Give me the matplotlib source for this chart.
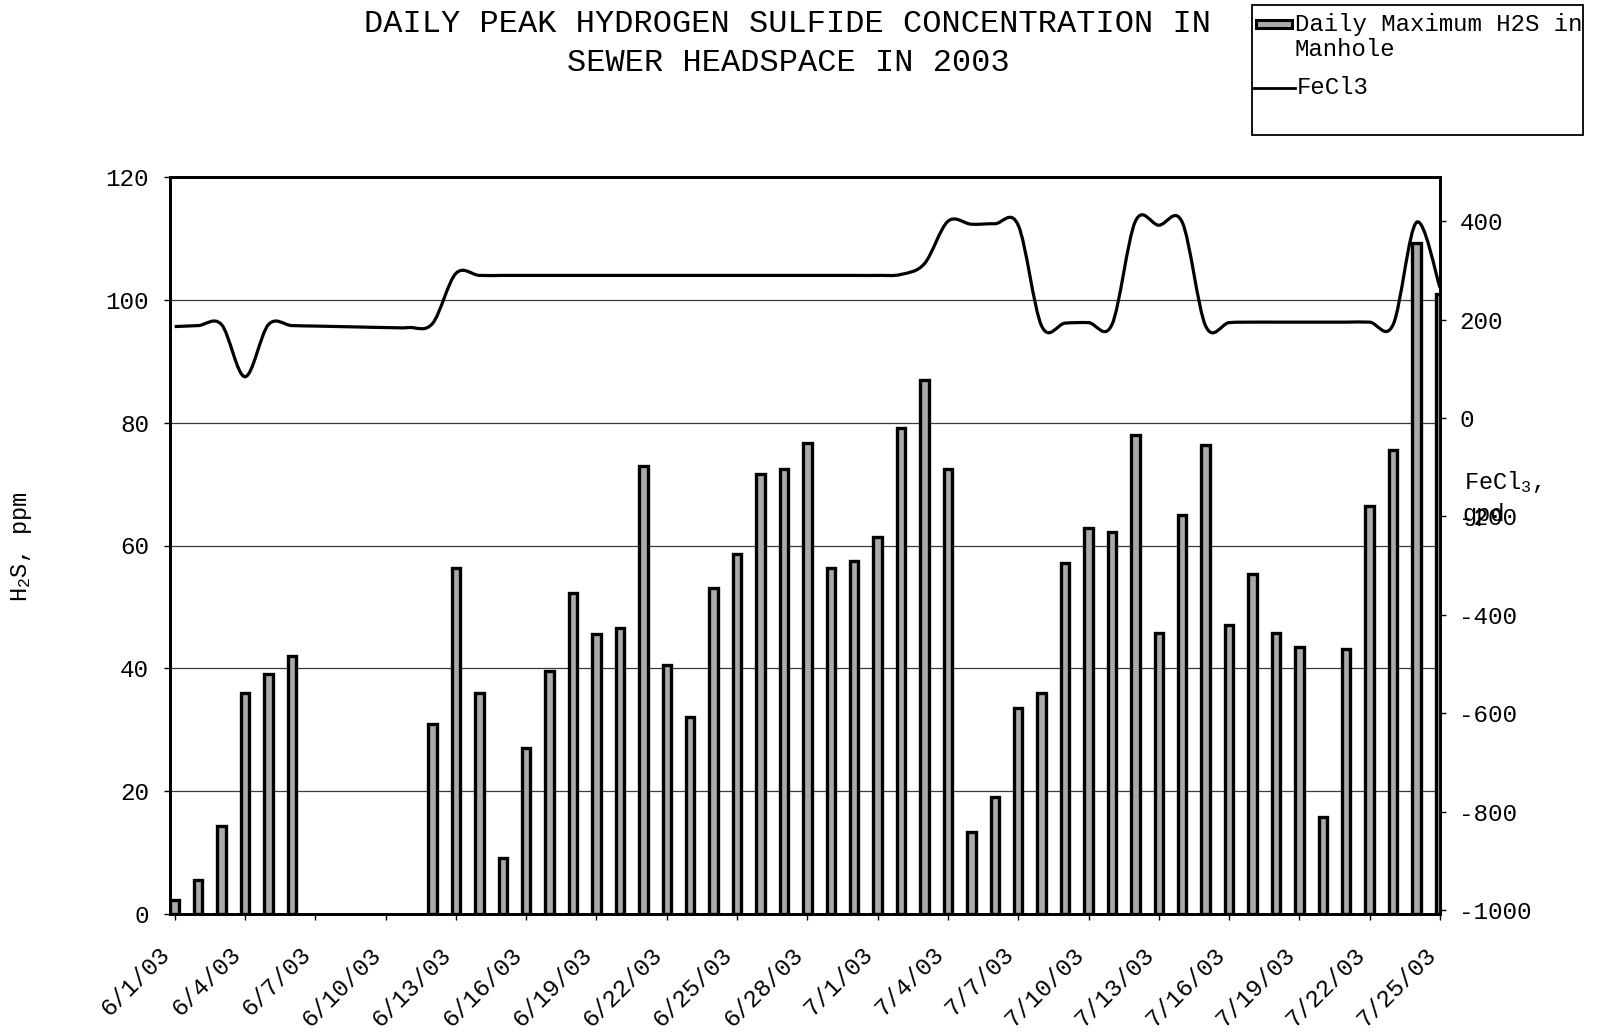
import numpy as np
import matplotlib
matplotlib.use('Agg')
import matplotlib.pyplot as plt
from matplotlib.path import Path
from matplotlib.patches import PathPatch, Rectangle
from matplotlib.lines import Line2D

plt.rcParams['font.family'] = ['Liberation Mono', 'DejaVu Sans Mono']
plt.rcParams['axes.unicode_minus'] = False
plt.rcParams['mathtext.fontset'] = 'custom'
plt.rcParams['mathtext.rm'] = 'Liberation Mono'
plt.rcParams['mathtext.it'] = 'Liberation Mono'

# ---------------- data ----------------
day_labels = ['6/1/03', '6/2/03', '6/3/03', '6/4/03', '6/5/03', '6/6/03', '6/7/03', '6/8/03',
              '6/9/03', '6/10/03', '6/11/03', '6/12/03', '6/13/03', '6/14/03', '6/15/03',
              '6/16/03', '6/17/03', '6/18/03', '6/19/03', '6/20/03', '6/21/03', '6/22/03',
              '6/23/03', '6/24/03', '6/25/03', '6/26/03', '6/27/03', '6/28/03', '6/29/03',
              '6/30/03', '7/1/03', '7/2/03', '7/3/03', '7/4/03', '7/5/03', '7/6/03', '7/7/03',
              '7/8/03', '7/9/03', '7/10/03', '7/11/03', '7/12/03', '7/13/03', '7/14/03',
              '7/15/03', '7/16/03', '7/17/03', '7/18/03', '7/19/03', '7/20/03', '7/21/03',
              '7/22/03', '7/23/03', '7/24/03', '7/25/03']

tick_labels = ['6/1/03', '6/4/03', '6/7/03', '6/10/03', '6/13/03', '6/16/03', '6/19/03',
               '6/22/03', '6/25/03', '6/28/03', '7/1/03', '7/4/03', '7/7/03', '7/10/03',
               '7/13/03', '7/16/03', '7/19/03', '7/22/03', '7/25/03']

h2s_max = [2.2, 5.6, 14.3, 36.0, 39.0, 42.0, None, None, None, None, None,
           31.0, 56.3, 36.0, 9.1, 27.0, 39.5, 52.3, 45.6, 46.5, 73.0,
           40.5, 32.0, 53.0, 58.6, 71.7, 72.5, 76.7, 56.4, 57.4, 61.4,
           79.2, 87.0, 72.4, 13.4, 19.1, 33.5, 36.0, 57.1, 62.9, 62.2,
           78.0, 45.8, 64.9, 76.3, 47.1, 55.3, 45.8, 43.5, 15.8, 43.2,
           66.4, 75.5, 109.2, 101.0]

fecl3 = [186, 188, 190, 84, 190, 188, 187, 186, 185, 184, 184, 192, 294,
         290, 290, 290, 290, 290, 290, 290, 290, 290, 290, 290, 290, 290, 290, 290, 290, 290, 290, 292,
         314, 400, 394, 395, 392, 187, 193, 194, 190, 400, 392, 398, 187,
         194, 195, 195, 195, 195, 195, 195, 190, 398, 265]

h2s_ticks = [0, 20, 40, 60, 80, 100, 120]
fecl3_ticks = [-1000, -800, -600, -400, -200, 0, 200, 400]

# ---------------- figure ----------------
W, H = 1598, 1036
fig = plt.figure(figsize=(W / 100, H / 100), dpi=100)
fig.patch.set_facecolor('white')

def fx(px):
    return px / W

def fy(py):
    return 1 - py / H

ax = fig.add_axes([fx(170), fy(914), (1440 - 170) / W, (914 - 177) / H])
x = np.arange(len(day_labels))
vals = np.array([np.nan if v is None else v for v in h2s_max], dtype=float)

ax.bar(x, vals, width=0.36, color='#aaaaaa', edgecolor='black', linewidth=2.4, zorder=3)
ax.set_xlim(-0.2, 53.95)
ax.set_ylim(0, 120)
ax.set_yticks(h2s_ticks)
ax.set_yticklabels([str(t) for t in h2s_ticks])
tick_pos = [day_labels.index(t) for t in tick_labels]
ax.set_xticks(tick_pos)
ax.set_xticklabels(tick_labels, rotation=45, ha='right', va='top')
ax.yaxis.grid(True, color='#3a3a3a', linewidth=0.9, zorder=0)
ax.set_axisbelow(True)
ax.tick_params(axis='y', direction='out', length=4, width=1.0, pad=11, labelsize=17.5)
ax.tick_params(axis='x', direction='out', length=4, width=1.0, pad=17, labelsize=17.5)
for s in ax.spines.values():
    s.set_linewidth(2.0)

ax2 = ax.twinx()
ax2.set_ylim(-1008, 490)
ax2.set_yticks(fecl3_ticks)
ax2.set_yticklabels([str(t) for t in fecl3_ticks])
ax2.tick_params(axis='y', direction='out', length=4, width=1.0, pad=10, labelsize=17.5)
for s in ax2.spines.values():
    s.set_linewidth(2.0)

# smoothed line (Excel-style smoothing through the daily points)
fx_pts = np.array(fecl3, dtype=float)
n = len(fx_pts)
verts = [(x[0], fx_pts[0])]
codes = [Path.MOVETO]
for i in range(n - 1):
    i0 = max(i - 1, 0)
    i3 = min(i + 2, n - 1)
    p0 = np.array([x[i0], fx_pts[i0]])
    p1 = np.array([x[i], fx_pts[i]])
    p2 = np.array([x[i + 1], fx_pts[i + 1]])
    p3 = np.array([x[i3], fx_pts[i3]])
    c1 = p1 + (p2 - p0) / 6.0
    c2 = p2 - (p3 - p1) / 6.0
    verts += [tuple(c1), tuple(c2), tuple(p2)]
    codes += [Path.CURVE4] * 3
line_patch = PathPatch(Path(verts, codes), fill=False, edgecolor='black', linewidth=2.3,
                       transform=ax2.transData, zorder=5)
ax2.add_patch(line_patch)

# ---------------- texts ----------------
fig.text(fx(788), fy(9), "DAILY PEAK HYDROGEN SULFIDE CONCENTRATION IN\nSEWER HEADSPACE IN 2003",
         ha='center', va='top', fontsize=23, linespacing=1.38)

fig.text(fx(22), fy(547), "H$_\\mathrm{2}$S, ppm", rotation=90, ha='center', va='center', fontsize=17)
fig.text(fx(1464), fy(482), "FeCl$_\\mathrm{3}$,", ha='left', va='center', fontsize=17)
fig.text(fx(1462), fy(514), "gpd", ha='left', va='center', fontsize=17)

# ---------------- legend ----------------
fig.patches.append(Rectangle((fx(1252), fy(135)), 331 / W, 130 / H, transform=fig.transFigure,
                             fill=False, edgecolor='black', linewidth=1.3))
fig.patches.append(Rectangle((fx(1256), fy(28)), 36 / W, 8 / H, transform=fig.transFigure,
                             facecolor='#aaaaaa', edgecolor='black', linewidth=2.2))
fig.text(fx(1295), fy(24), "Daily Maximum H2S in", ha='left', va='center', fontsize=17.3)
fig.text(fx(1295), fy(50), "Manhole", ha='left', va='center', fontsize=17.3)
fig.lines.append(Line2D([fx(1253), fx(1295)], [fy(88), fy(88)], transform=fig.transFigure,
                        color='black', linewidth=2.0))
fig.text(fx(1297), fy(88), "FeCl3", ha='left', va='center', fontsize=17.3)

fig.savefig('out.png', dpi=100, facecolor='white')
